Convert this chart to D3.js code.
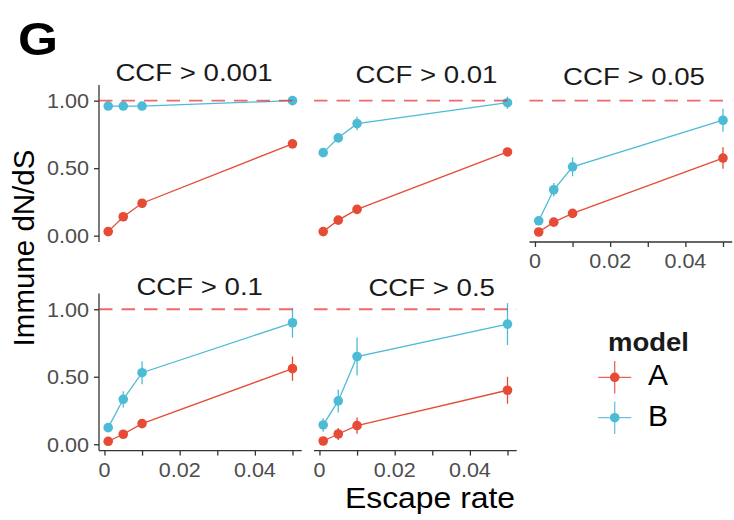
<!DOCTYPE html>
<html>
<head>
<meta charset="utf-8">
<script src="https://cdn.jsdelivr.net/npm/d3@7"></script>
<style>
  html, body { margin: 0; padding: 0; background: #fff; }
  svg { display: block; font-family: "Liberation Sans", Arial, Helvetica, sans-serif; }
</style>
</head>
<body>
<svg id="chart" width="734" height="520"></svg>
<script>
// ---- data ----
const escapeRates = [0.001, 0.005, 0.01, 0.05];
const models = ["A", "B"];
const panelTitles = ["CCF > 0.001", "CCF > 0.01", "CCF > 0.05", "CCF > 0.1", "CCF > 0.5"];

// mean immune dN/dS per panel, one row per CCF threshold
const meanA = [
  [0.03, 0.14, 0.24, 0.68],
  [0.03, 0.115, 0.195, 0.62],
  [0.027, 0.10, 0.165, 0.575],
  [0.022, 0.074, 0.153, 0.56],
  [0.024, 0.076, 0.138, 0.40]
];
const meanB = [
  [0.96, 0.96, 0.96, 1.00],
  [0.615, 0.725, 0.83, 0.985],
  [0.11, 0.34, 0.51, 0.855],
  [0.123, 0.333, 0.53, 0.90],
  [0.143, 0.321, 0.65, 0.89]
];
// half-width of the error bars
const errA = [
  [0.01, 0.01, 0.01, 0.015],
  [0.01, 0.015, 0.02, 0.025],
  [0.015, 0.02, 0.025, 0.08],
  [0.015, 0.02, 0.03, 0.09],
  [0.02, 0.045, 0.06, 0.10]
];
const errB = [
  [0.01, 0.01, 0.01, 0.01],
  [0.02, 0.035, 0.05, 0.045],
  [0.025, 0.05, 0.07, 0.085],
  [0.025, 0.06, 0.085, 0.11],
  [0.05, 0.085, 0.14, 0.155]
];
const neutralLevel = 1;

const xTicks = [0, 0.01, 0.02, 0.03, 0.04, 0.05];
const xTickLabels = ["0", "", "0.02", "", "0.04", ""];
const yTicks = [0, 0.5, 1];
const yTickLabels = ["0.00", "0.50", "1.00"];

// ---- layout ----
const colors = { A: "#E64B35", B: "#4DBBD5" };
const colLeft = [99, 314, 529.5];
const rowTop = [85, 293.6];
const panelW = 202.7, panelH = 157;
const xDomain = [-0.00145, 0.05245];
const yDomain = [-0.047, 1.116];
// strip title anchor (centre x, baseline y) for each facet
const stripPos = [[194, 80.5], [426.5, 83], [634, 85], [199.7, 295], [431.7, 296]];

const svg = d3.select("#chart");

// text helper: horizontally widened glyphs like the original typesetting
function label(parent, x, y, str, opts) {
  const o = Object.assign({ size: 20, sx: 1, anchor: "start", weight: "normal", fill: "#000", rotate: 0 }, opts);
  const g = parent.append("g")
    .attr("transform", `translate(${x},${y}) rotate(${o.rotate}) scale(${o.sx},1)`);
  g.append("text")
    .attr("text-anchor", o.anchor)
    .attr("font-size", o.size)
    .attr("font-weight", o.weight)
    .attr("fill", o.fill)
    .text(str);
  return g;
}

panelTitles.forEach((title, i) => {
  const col = i % 3, row = Math.floor(i / 3);
  const left = colLeft[col], top = rowTop[row];
  const x = d3.scaleLinear().domain(xDomain).range([left, left + panelW]);
  const y = d3.scaleLinear().domain(yDomain).range([top + panelH, top]);
  const g = svg.append("g");

  // strip title
  label(svg, stripPos[i][0], stripPos[i][1], title, { size: 24, sx: 1.15, anchor: "middle", fill: "#1a1a1a" });

  // y axis on the left column
  if (col === 0) {
    const yAxis = d3.axisLeft(y).tickValues(yTicks).tickSize(5).tickFormat("");
    const ga = g.append("g").attr("transform", `translate(${left},0)`).call(yAxis);
    ga.select(".domain").attr("d", `M0,${top}V${top + panelH}`).attr("stroke", "#333").attr("stroke-width", 1.3);
    ga.selectAll(".tick line").attr("stroke", "#333").attr("stroke-width", 1.3);
    yTicks.forEach((t, k) => {
      label(g, left - 10, y(t) + 7.3, yTickLabels[k], { size: 20, sx: 1.08, anchor: "end", fill: "#4d4d4d" });
    });
  }

  // x axis on the bottom facet of each column
  if (i >= 2) {
    const xAxis = d3.axisBottom(x).tickValues(xTicks).tickSize(5).tickFormat("");
    const ga = g.append("g").attr("transform", `translate(0,${top + panelH})`).call(xAxis);
    ga.select(".domain").attr("d", `M${left},0H${left + panelW}`).attr("stroke", "#333").attr("stroke-width", 1.3);
    ga.selectAll(".tick line").attr("stroke", "#333").attr("stroke-width", 1.3);
    xTicks.forEach((t, k) => {
      if (xTickLabels[k]) label(g, x(t), top + panelH + 26, xTickLabels[k], { size: 20.5, sx: 1.05, anchor: "middle", fill: "#4d4d4d" });
    });
  }

  const series = [
    { model: "A", mean: meanA[i], err: errA[i] },
    { model: "B", mean: meanB[i], err: errB[i] }
  ];

  const line = d3.line().x((d, k) => x(escapeRates[k])).y(d => y(d));
  series.forEach(s => {
    const c = colors[s.model];
    g.append("path").attr("d", line(s.mean)).attr("fill", "none")
      .attr("stroke", c).attr("stroke-width", 1.3);
    g.selectAll(null).data(s.mean).enter().append("line")
      .attr("x1", (d, k) => x(escapeRates[k])).attr("x2", (d, k) => x(escapeRates[k]))
      .attr("y1", (d, k) => y(d - s.err[k])).attr("y2", (d, k) => y(d + s.err[k]))
      .attr("stroke", c).attr("stroke-width", 1.3);
    g.selectAll(null).data(s.mean).enter().append("circle")
      .attr("cx", (d, k) => x(escapeRates[k])).attr("cy", d => y(d))
      .attr("r", 4.8).attr("fill", c);
  });

  // neutral reference line
  g.append("line")
    .attr("x1", left).attr("x2", left + panelW)
    .attr("y1", y(neutralLevel)).attr("y2", y(neutralLevel))
    .attr("stroke", "#e8282d").attr("stroke-opacity", 0.7)
    .attr("stroke-width", 1.8).attr("stroke-dasharray", "13.5 9");
});

// axis titles
label(svg, 430, 508, "Escape rate", { size: 29, sx: 1.1, anchor: "middle" });
label(svg, 33.5, 248, "Immune dN/dS", { size: 29.5, rotate: -90, anchor: "middle" });

// panel tag
label(svg, 18, 55, "G", { size: 46, sx: 1.12, weight: "bold" });

// legend
label(svg, 608, 351, "model", { size: 25, sx: 1.1, weight: "bold", fill: "#1a1a1a" });
const legendY = [377.3, 417.7];
models.forEach((m, k) => {
  const cy = legendY[k], cx = 614.7, c = colors[m];
  svg.append("line").attr("x1", cx - 16.5).attr("x2", cx + 16.5).attr("y1", cy).attr("y2", cy)
    .attr("stroke", c).attr("stroke-width", 1.3).attr("stroke-opacity", 0.85);
  svg.append("line").attr("x1", cx).attr("x2", cx).attr("y1", cy - 16.3).attr("y2", cy + 16.3)
    .attr("stroke", c).attr("stroke-width", 1.3).attr("stroke-opacity", 0.85);
  svg.append("circle").attr("cx", cx).attr("cy", cy).attr("r", 4.8).attr("fill", c);
  label(svg, 648, cy + 8, m, { size: 30 });
});
</script>
</body>
</html>
